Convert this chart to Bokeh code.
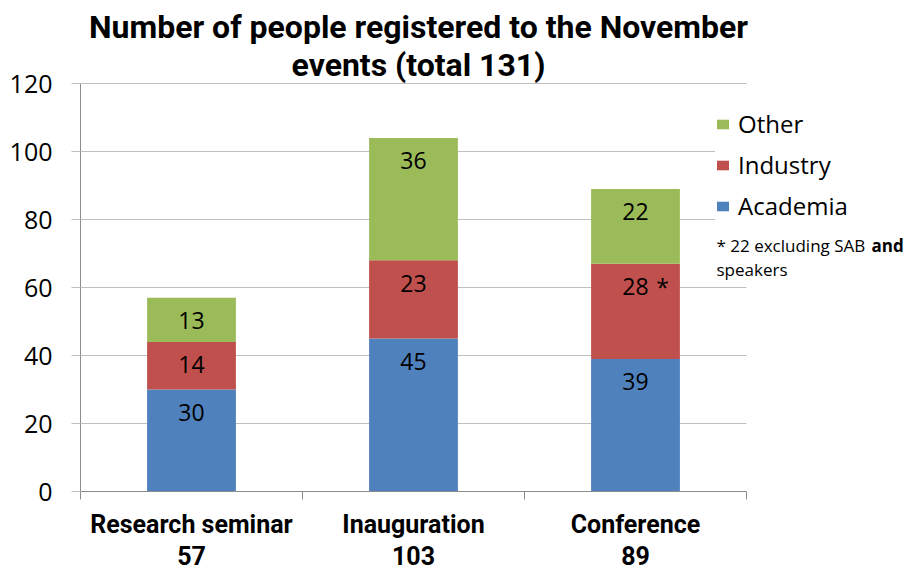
import numpy as np
from bokeh.plotting import figure
from bokeh.models import (Range1d, FixedTicker, ColumnDataSource, Legend, LegendItem, Label)
from bokeh.core.properties import value
from bokeh.embed import file_html
from bokeh.resources import INLINE

# ---- data ----
categories = ["Research seminar", "Inauguration", "Conference"]
totals = [57, 103, 89]
academia = [30, 45, 39]
industry = [14, 23, 28]
other = [13, 36, 22]
series = ["Academia", "Industry", "Other"]
colors = ["#4F81BD", "#C0504D", "#9BBB59"]
y_ticks = [0, 20, 40, 60, 80, 100, 120]
title_lines = ["Number of people registered to the November", "events (total 131)"]
note_text = "* 22 excluding SAB "
note_bold = "and"
note_line2 = "speakers"

# ---- layout (pixels) ----
W, H = 911, 573
LEFT = 80            # frame left
CAT_RIGHT = 746      # right end of category area
ZERO_Y = 491         # frame bottom (y = 0)
TOP_Y = 83           # pixel row of the top tick

n = len(categories)
xpos = np.arange(n) + 0.5
bounds = list(np.arange(n + 1))
x_end = n * (W - LEFT) / (CAT_RIGHT - LEFT)
y_end = y_ticks[-1] * ZERO_Y / (ZERO_Y - TOP_Y)

p = figure(width=W, height=H, output_backend="svg", toolbar_location=None,
           x_range=Range1d(0, x_end), y_range=Range1d(0, y_end),
           min_border_left=LEFT, min_border_right=0, min_border_top=0,
           min_border_bottom=H - ZERO_Y)
p.outline_line_color = None
p.background_fill_color = "white"
p.xgrid.grid_line_color = None
p.ygrid.grid_line_color = None

# grid lines over the category area only
p.segment(x0=[0] * len(y_ticks), x1=[n] * len(y_ticks), y0=y_ticks, y1=y_ticks,
          line_color="#BFBFBF", line_width=1.2)

src = ColumnDataSource(dict(x=xpos, Academia=academia, Industry=industry, Other=other))
rs = p.vbar_stack(series, x="x", width=0.4, source=src, color=colors, line_color=None)

# value labels (placed near the top of each segment)
lab_x, lab_y, lab_t = [], [], []
cum = np.zeros(n)
for vals in (academia, industry, other):
    cum = cum + np.array(vals)
    lab_x += list(xpos)
    lab_y += list(cum)
    lab_t += [str(v) for v in vals]
p.text(x=lab_x, y=lab_y, text=lab_t, y_offset=23, text_align="center", text_baseline="middle",
       text_font=value("Open Sans"), text_font_size="23px", text_color="black")
ci = categories.index("Conference")
p.text(x=[xpos[ci]], y=[academia[ci] + industry[ci]], text=["*"], x_offset=27, y_offset=23,
       text_align="center", text_baseline="middle", text_font=value("Open Sans"),
       text_font_size="23px", text_color="black")

# y axis
yax = p.yaxis[0]
yax.bounds = (y_ticks[0], y_ticks[-1])
yax.ticker = FixedTicker(ticks=y_ticks)
yax.axis_line_color = "#8C8C8C"
yax.major_tick_line_color = "#BFBFBF"
yax.major_tick_out = 9
yax.major_tick_in = 0
yax.minor_tick_line_color = None
yax.major_label_standoff = 19
yax.major_label_text_font = "Open Sans"
yax.major_label_text_font_size = "25px"
yax.major_label_text_color = "black"

# x axis
xax = p.xaxis[0]
xax.bounds = (0, n)
xax.ticker = FixedTicker(ticks=list(xpos), minor_ticks=bounds)
xax.major_label_overrides = {float(x): f"{c}\n{t}" for x, c, t in zip(xpos, categories, totals)}
xax.axis_line_color = "#8C8C8C"
xax.major_tick_line_color = None
xax.minor_tick_line_color = "#8C8C8C"
xax.minor_tick_out = 8
xax.minor_tick_in = 0
xax.major_label_standoff = 10
xax.major_label_text_font = "Roboto"
xax.major_label_text_font_style = "bold"
xax.major_label_text_font_size = "25px"
xax.major_label_text_line_height = 1.12
xax.major_label_text_color = "black"

# title (two centred lines)
for i, line in enumerate(title_lines):
    p.add_layout(Label(x=n / 2, y=ZERO_Y - (26 + 38 * i), x_units="data", y_units="screen",
                       x_offset=5, text=line, text_align="center", text_baseline="middle",
                       text_font="Roboto", text_font_style="bold", text_font_size="32px",
                       text_color="black"))

# legend
items = [LegendItem(label=s, renderers=[r]) for s, r in zip(series, rs)][::-1]
legend = Legend(items=items, location=(635, ZERO_Y - 222), orientation="vertical",
                label_text_font="Open Sans", label_text_font_size="24px",
                label_text_color="black", glyph_width=15, glyph_height=12,
                label_standoff=8, spacing=8, padding=10, margin=0,
                border_line_color=None, background_fill_color="white",
                background_fill_alpha=1.0)
p.add_layout(legend, "center")

# note
NOTE_X = 716 - LEFT
p.add_layout(Label(x=NOTE_X, y=ZERO_Y - 245, x_units="screen", y_units="screen",
                   text=note_text, text_font="Open Sans", text_font_size="17px",
                   text_baseline="middle", text_color="black"))
p.add_layout(Label(x=NOTE_X + 155, y=ZERO_Y - 245, x_units="screen", y_units="screen",
                   text=note_bold, text_font="Open Sans", text_font_style="bold",
                   text_font_size="17px", text_baseline="middle", text_color="black"))
p.add_layout(Label(x=NOTE_X, y=ZERO_Y - 269, x_units="screen", y_units="screen",
                   text=note_line2, text_font="Open Sans", text_font_size="17px",
                   text_baseline="middle", text_color="black"))

open("out.html", "w").write(file_html(p, INLINE))
